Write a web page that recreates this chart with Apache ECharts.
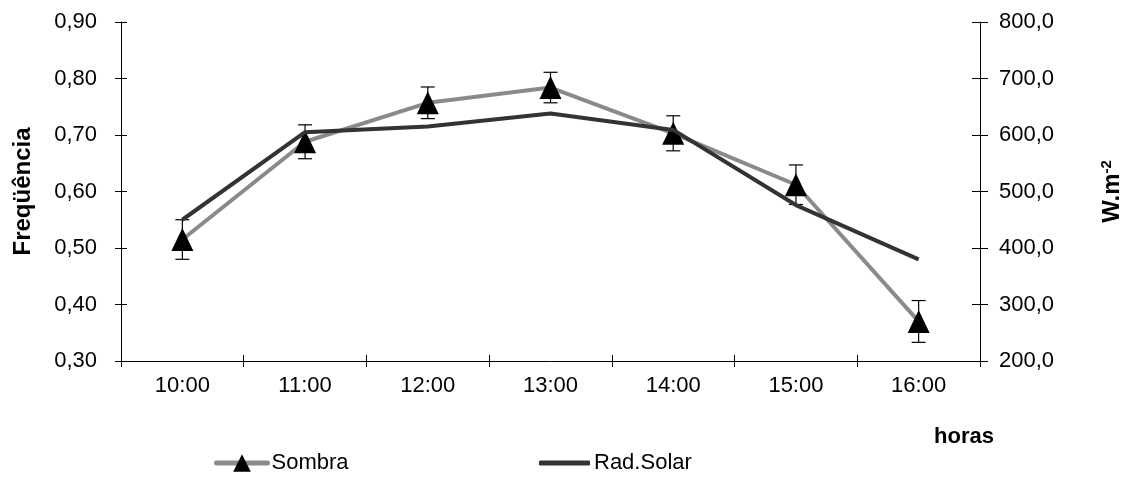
<!DOCTYPE html>
<html>
<head>
<meta charset="utf-8">
<script src="https://cdn.jsdelivr.net/npm/echarts@6/dist/echarts.min.js"></script>
<style>html,body{margin:0;padding:0;background:#fff}#c{width:1121px;height:478px}</style>
</head>
<body>
<div id="c"></div>
<script>
const categories = ['10:00','11:00','12:00','13:00','14:00','15:00','16:00'];
const sombra = [0.515, 0.688, 0.757, 0.784, 0.703, 0.612, 0.370];
const sombraErr = [0.035, 0.030, 0.028, 0.027, 0.031, 0.035, 0.037];
const radSolar = [450, 605, 615, 638, 609, 476, 380];
const leftTicks = {min: 0.3, max: 0.9, interval: 0.1};
const rightTicks = {min: 200, max: 800, interval: 100};

const FONT = "'Liberation Sans', Arial, sans-serif";
const chart = echarts.init(document.getElementById('c'), null, {renderer: 'canvas'});
const errData = sombra.map((v, i) => [i, v - sombraErr[i], v + sombraErr[i]]);

chart.setOption({
  animation: false,
  textStyle: {fontFamily: FONT},
  grid: {left: 121, right: 141, top: 22, bottom: 117, containLabel: false, outerBoundsMode: 'none'},
  legend: [{
    data: ['Sombra'],
    left: 214, top: 452, padding: 0,
    itemWidth: 51, itemHeight: 22,
    lineStyle: {width: 5, cap: 'round'},
    textStyle: {fontFamily: FONT, fontSize: 22, color: '#000', padding: [0,0,0,-1]}
  }, {
    data: [{name: 'Rad.Solar', icon: 'roundRect'}],
    left: 539, top: 452, padding: 0,
    itemWidth: 51, itemHeight: 5,
    itemStyle: {color: '#333333'},
    textStyle: {fontFamily: FONT, fontSize: 22, color: '#000', padding: [0,0,0,-1]}
  }],
  graphic: [{
    type: 'text', left: 934, top: 426,
    style: {text: 'horas', font: "bold 22px 'Liberation Sans', Arial, sans-serif", fill: '#000'}
  }],
  xAxis: [{
    type: 'category', data: categories, position: 'bottom',
    axisLine: {lineStyle: {color: '#000', width: 1}},
    axisTick: {show: true, length: 6, lineStyle: {color: '#000'}},
    axisLabel: {fontSize: 22, color: '#000', margin: 14, fontFamily: FONT},
    splitLine: {show: false}
  }, {
    type: 'category', data: categories, position: 'bottom',
    axisLine: {show: false},
    axisTick: {show: true, inside: true, length: 6, lineStyle: {color: '#000'}},
    axisLabel: {show: false}, splitLine: {show: false}
  }],
  yAxis: [{
    type: 'value', position: 'left', min: leftTicks.min, max: leftTicks.max, interval: leftTicks.interval,
    name: 'Freqüência', nameLocation: 'middle', nameGap: 86, nameRotate: 90,
    nameTextStyle: {fontSize: 24, fontWeight: 'bold', color: '#000', fontFamily: FONT},
    axisLine: {show: true, lineStyle: {color: '#000'}},
    axisTick: {show: true, length: 6, lineStyle: {color: '#000'}},
    axisLabel: {fontSize: 22, color: '#000', margin: 24, fontFamily: FONT,
      formatter: v => v.toFixed(2).replace('.', ',')},
    splitLine: {show: false}
  }, {
    type: 'value', position: 'right', min: rightTicks.min, max: rightTicks.max, interval: rightTicks.interval,
    name: 'W.m{sup|-2}', nameLocation: 'middle', nameGap: 119, nameRotate: 90,
    nameTextStyle: {fontSize: 24, fontWeight: 'bold', color: '#000', fontFamily: FONT,
      rich: {sup: {fontSize: 15, fontWeight: 'bold', verticalAlign: 'top', padding: [0,0,12,0], fontFamily: FONT}}},
    axisLine: {show: true, lineStyle: {color: '#000'}},
    axisTick: {show: true, length: 8, lineStyle: {color: '#000'}},
    axisLabel: {fontSize: 22, color: '#000', margin: 19, fontFamily: FONT,
      formatter: v => v.toFixed(1).replace('.', ',')},
    splitLine: {show: false}
  }, {
    type: 'value', position: 'left', min: leftTicks.min, max: leftTicks.max, interval: leftTicks.interval,
    axisLine: {show: false},
    axisTick: {show: true, inside: true, length: 6, lineStyle: {color: '#000'}},
    axisLabel: {show: false}, splitLine: {show: false}
  }, {
    type: 'value', position: 'right', min: rightTicks.min, max: rightTicks.max, interval: rightTicks.interval,
    axisLine: {show: false},
    axisTick: {show: true, inside: true, length: 8, lineStyle: {color: '#000'}},
    axisLabel: {show: false}, splitLine: {show: false}
  }],
  series: [{
    name: 'Sombra', type: 'line', data: sombra, xAxisIndex: 0, yAxisIndex: 0,
    symbol: 'triangle', symbolSize: [22, 23], showAllSymbol: true,
    itemStyle: {color: '#000'},
    lineStyle: {color: '#8a8a8a', width: 4},
    z: 2
  }, {
    name: 'errbars', type: 'custom', data: errData, xAxisIndex: 0, yAxisIndex: 0,
    renderItem: function (params, api) {
      const x = api.value(0);
      const lo = api.coord([x, api.value(1)]);
      const hi = api.coord([x, api.value(2)]);
      const w = 7;
      const st = {stroke: '#000', lineWidth: 1.2};
      return {type: 'group', children: [
        {type: 'line', shape: {x1: lo[0], y1: lo[1], x2: hi[0], y2: hi[1]}, style: st},
        {type: 'line', shape: {x1: lo[0] - w, y1: lo[1], x2: lo[0] + w, y2: lo[1]}, style: st},
        {type: 'line', shape: {x1: hi[0] - w, y1: hi[1], x2: hi[0] + w, y2: hi[1]}, style: st}
      ]};
    },
    z: 3, silent: true
  }, {
    name: 'Rad.Solar', type: 'line', data: radSolar, xAxisIndex: 0, yAxisIndex: 1,
    symbol: 'none',
    itemStyle: {color: '#333333'},
    lineStyle: {color: '#333333', width: 4},
    z: 4
  }]
});
</script>
</body>
</html>
